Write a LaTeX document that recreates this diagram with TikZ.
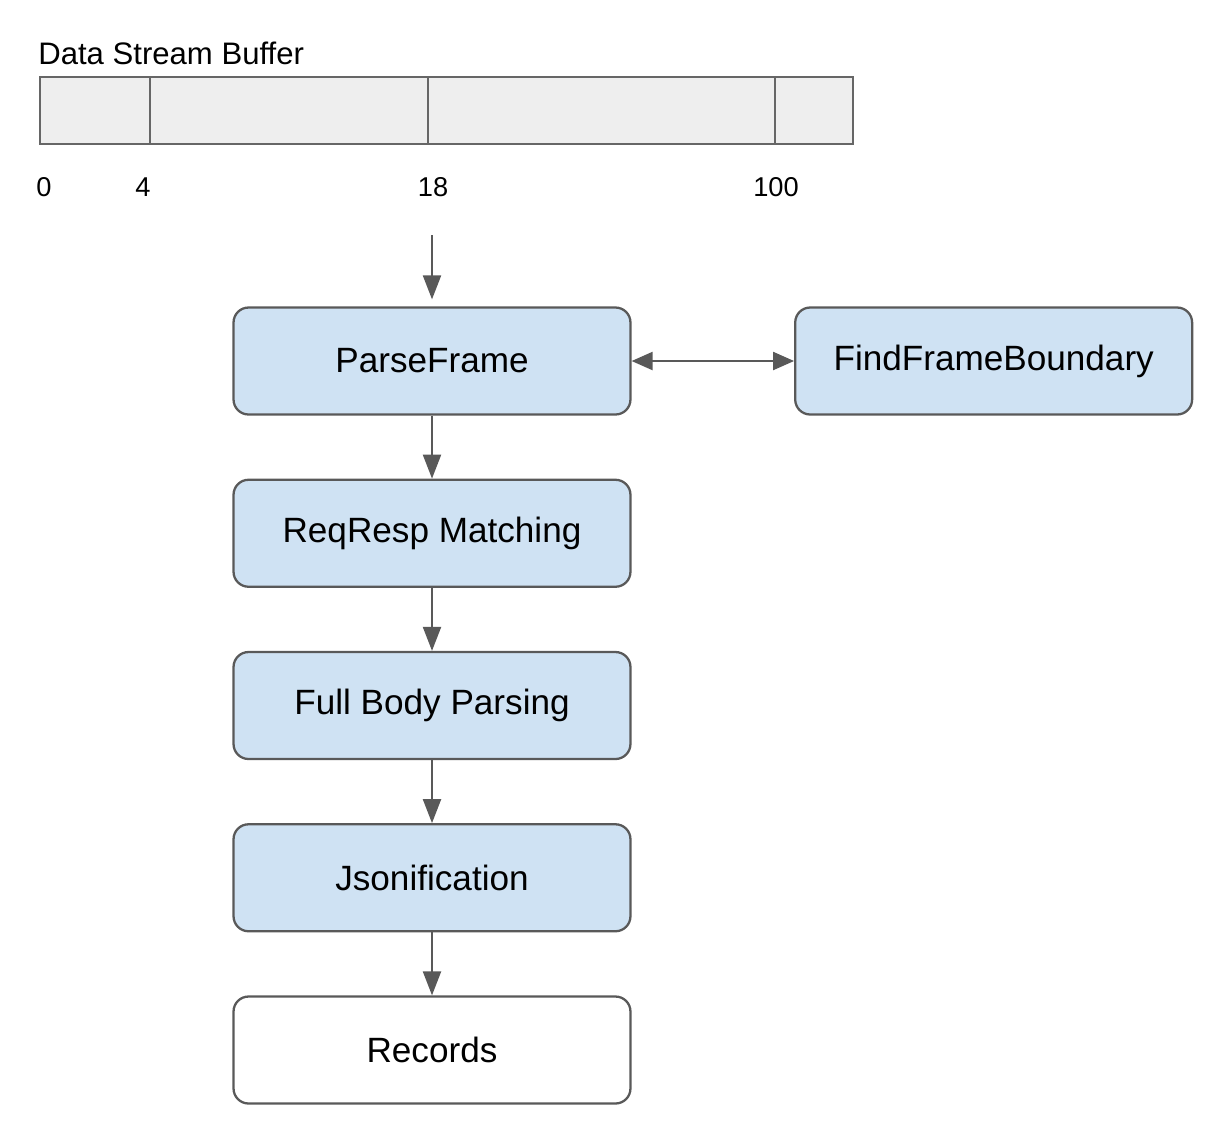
\documentclass[tikz,border=0pt]{standalone}
\usepackage{fontspec}
\setmainfont{Liberation Sans}
\usetikzlibrary{arrows.meta,positioning}
\definecolor{stageblue}{HTML}{CFE2F3}
\definecolor{edgegray}{HTML}{595959}
\definecolor{buffill}{HTML}{EEEEEE}
\definecolor{bufline}{HTML}{666666}
\tikzset{
  stage/.style={rectangle,rounded corners=0.3cm,draw=edgegray,line width=1.3pt,
    fill=stageblue,minimum width=7.94cm,minimum height=2.14cm,inner sep=0pt,
    font=\fontsize{20}{24}\selectfont},
  sink/.style={stage,fill=white},
  flow/.style={-{Triangle[length=0.48cm,width=0.36cm]},line width=1.2pt,draw=edgegray},
  biflow/.style={{Triangle[length=0.42cm,width=0.36cm]}-{Triangle[length=0.42cm,width=0.36cm]},
    line width=1.2pt,draw=edgegray},
  cell/.style={draw=bufline,line width=1.3pt,fill=buffill},
  divider/.style={draw=bufline,line width=1.3pt},
  offset/.style={inner sep=0pt,font=\fontsize{15.5}{18}\selectfont},
  caption/.style={inner sep=0pt,font=\fontsize{17.7}{21}\selectfont}
}

\begin{document}
\begin{tikzpicture}[x=0.02cm,y=-0.02cm]
\useasboundingbox (0,0) rectangle (1224,1134);
% the buffer with its byte offsets
\node[caption,anchor=base west] (title) at (38,64) {Data Stream Buffer};
\draw[cell] (40,77) rectangle (853,144);
\foreach \x in {150,428,775}
  \draw[divider] (\x,77) -- (\x,144);
\foreach \x/\t in {44/0,143/4,433/18,776/100}
  \node[offset,anchor=base] (off\t) at (\x,196) {\t};
% parsing pipeline
\coordinate (feed) at (432,235);
\node[stage] (parse) at (432,361) {ParseFrame};
\node[stage,right=3.25cm of parse] (boundary) {FindFrameBoundary};
\node[stage,below=1.26cm of parse] (match) {ReqResp Matching};
\node[stage,below=1.26cm of match] (body) {Full Body Parsing};
\node[stage,below=1.26cm of body] (json) {Jsonification};
\node[sink,below=1.26cm of json] (records) {Records};
\draw[flow,shorten >=0.14cm] (feed) -- (parse);
\draw[biflow] (parse) -- (boundary);
\draw[flow] (parse) -- (match);
\draw[flow] (match) -- (body);
\draw[flow] (body) -- (json);
\draw[flow] (json) -- (records);
\end{tikzpicture}
\end{document}
